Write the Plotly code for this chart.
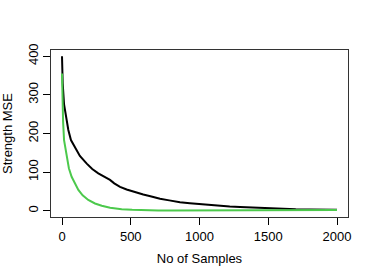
import plotly.graph_objects as go

black_x = [0, 5, 15, 30, 46, 65, 95, 130, 180, 220, 264, 310, 349, 380, 422, 470, 531, 591, 650, 713, 780, 858, 930, 1004, 1080, 1149, 1220, 1295, 1400, 1500, 1600, 1700, 1800, 1900, 2000]
black_y = [400, 330, 275, 240, 209, 183, 163, 142, 122, 108, 97, 88, 80, 71, 62, 55, 48, 42, 37, 31, 27, 22, 19.5, 17, 15, 13, 11, 10, 8, 6, 5, 4, 3.5, 3, 2.5]

green_x = [0, 3, 8, 15, 34, 50, 70, 94, 119, 150, 191, 240, 289, 350, 434, 510, 591, 700, 800, 1000, 1200, 1400, 1600, 1800, 2000]
green_y = [355, 300, 230, 183, 140, 110, 88, 70, 54, 40, 28, 19, 13, 8, 4, 2.5, 1.5, 1, 1, 1, 1.2, 1.5, 1.8, 2, 2]

x_ticks = [0, 500, 1000, 1500, 2000]
y_ticks = [0, 100, 200, 300, 400]

fig = go.Figure()
fig.add_trace(go.Scatter(x=black_x, y=black_y, mode="lines",
                         line=dict(color="black", width=2), showlegend=False))
fig.add_trace(go.Scatter(x=green_x, y=green_y, mode="lines",
                         line=dict(color="#4cc94c", width=2), showlegend=False))

font = dict(family="Liberation Sans, Arial, sans-serif", size=13, color="black")
fig.update_layout(
    width=374, height=280,
    margin=dict(l=51, r=26, t=50, b=63),
    paper_bgcolor="white", plot_bgcolor="white",
    font=font,
    xaxis=dict(range=[-80, 2080], tickvals=x_ticks, ticks="outside", ticklen=7,
               tickcolor="black", showline=True, linecolor="#333", linewidth=1,
               mirror=True, showgrid=False, zeroline=False, automargin=False,
               title=dict(text="No of Samples", font=font, standoff=11)),
    yaxis=dict(range=[-16, 416], tickvals=y_ticks, ticks="outside", ticklen=7,
               tickcolor="black", showline=True, linecolor="#333", linewidth=1,
               mirror=True, showgrid=False, zeroline=False, tickangle=-90,
               automargin=False,
               title=dict(text="Strength MSE", font=font, standoff=10)),
)
fig.write_html("out.html", config={"displayModeBar": False},
               post_script="document.body.style.margin='0';")
